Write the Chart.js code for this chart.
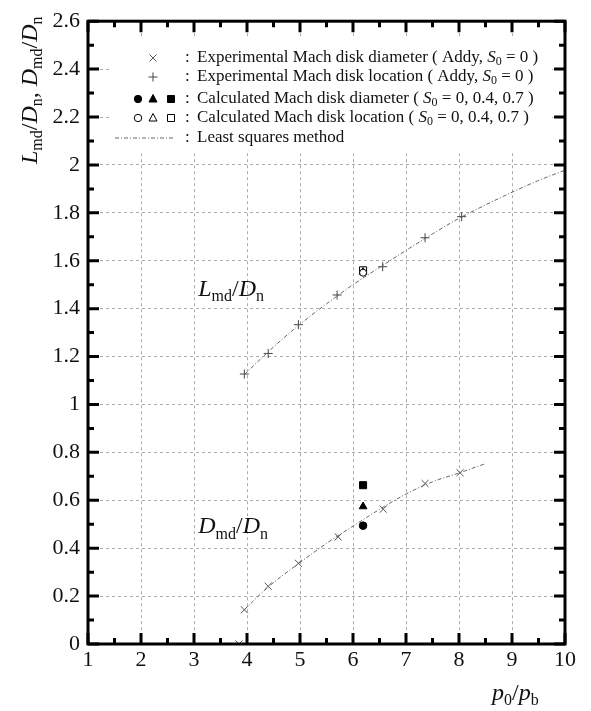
<!DOCTYPE html>
<html>
<head>
<meta charset="utf-8">
<script src="https://cdn.jsdelivr.net/npm/chart.js@4/dist/chart.umd.min.js"></script>
<style>
html,body{margin:0;padding:0;background:#fff;}
#wrap{width:591px;height:711px;position:relative;}
</style>
</head>
<body>
<div id="wrap"><canvas id="c" width="591" height="711"></canvas></div>
<script>
// ---- data ----
const xTickValues = [1, 2, 3, 4, 5, 6, 7, 8, 9, 10];
const yTickLabels = ['0','0.2','0.4','0.6','0.8','1','1.2','1.4','1.6','1.8','2','2.2','2.4','2.6'];

// Experimental Mach disk diameter (Addy, S0 = 0)  -> x markers
const expDiaX = [3.85, 3.95, 4.40, 4.97, 5.72, 6.57, 7.36, 8.02];
const expDiaY = [0.00, 0.143, 0.241, 0.337, 0.447, 0.563, 0.670, 0.715];
// Experimental Mach disk location (Addy, S0 = 0) -> + markers
const expLocX = [3.95, 4.40, 4.97, 5.70, 6.56, 7.36, 8.05];
const expLocY = [1.127, 1.213, 1.333, 1.457, 1.575, 1.696, 1.784];
// Calculated (S0 = 0, 0.4, 0.7)
const calcS0   = ['0', '0.4', '0.7'];
const calcX    = [6.19, 6.19, 6.19];
const calcDiaY = [0.494, 0.574, 0.663];
const calcLocY = [1.550, 1.553, 1.560];
// Least squares fits
const fitLocX = [3.95, 4.5, 5.0, 5.5, 6.0, 6.5, 7.0, 7.5, 8.0, 8.5, 9.0, 9.5, 10.0];
const fitLocY = [1.125, 1.240, 1.335, 1.420, 1.500, 1.572, 1.643, 1.712, 1.777, 1.833, 1.886, 1.935, 1.978];
const fitDiaX = [3.95, 4.4, 5.0, 5.5, 6.0, 6.5, 7.0, 7.5, 8.0, 8.5];
const fitDiaY = [0.143, 0.238, 0.340, 0.420, 0.492, 0.562, 0.626, 0.677, 0.714, 0.753];

const pts = (xs, ys) => xs.map((x, i) => ({x, y: ys[i]}));
const SERIF = '"Liberation Serif", "Times New Roman", serif';

// ---- rich text helper ----
function drawRich(ctx, x, y, segs, base) {
  let cx = x;
  for (const s of segs) {
    let size = base, style = '', dy = 0;
    if (s.k === 'i') style = 'italic ';
    if (s.k === 'sub') { size = Math.round(base * 0.68); dy = base * 0.22; }
    ctx.font = style + size + 'px ' + SERIF;
    ctx.fillText(s.t, cx, y + dy);
    cx += ctx.measureText(s.t).width;
  }
  return cx;
}
function drawMarker(ctx, type, x, y, filled) {
  ctx.save();
  ctx.lineWidth = 1;
  ctx.strokeStyle = '#000';
  ctx.fillStyle = filled ? '#000' : '#fff';
  ctx.beginPath();
  if (type === 'circle') ctx.arc(x, y, 3.7, 0, Math.PI * 2);
  else if (type === 'rect') ctx.rect(x - 3.5, y - 3.5, 7, 7);
  else if (type === 'triangle') { ctx.moveTo(x, y - 4.5); ctx.lineTo(x + 4, y + 3); ctx.lineTo(x - 4, y + 3); ctx.closePath(); }
  if (type === 'cross') { ctx.strokeStyle = '#444'; ctx.moveTo(x - 4.5, y); ctx.lineTo(x + 4.5, y); ctx.moveTo(x, y - 4.5); ctx.lineTo(x, y + 4.5); ctx.stroke(); }
  else if (type === 'crossRot') { ctx.strokeStyle = '#555'; ctx.moveTo(x - 3.5, y - 3.5); ctx.lineTo(x + 3.5, y + 3.5); ctx.moveTo(x + 3.5, y - 3.5); ctx.lineTo(x - 3.5, y + 3.5); ctx.stroke(); }
  else { ctx.fill(); ctx.stroke(); }
  ctx.restore();
}

const decor = {
  id: 'decor',
  beforeDatasetsDraw(chart) {
    const ctx = chart.ctx;
    ctx.save();
    ctx.fillStyle = '#fff';
    ctx.fillRect(110, 38, 442, 112);
    ctx.restore();
  },
  afterDraw(chart) {
    const ctx = chart.ctx, a = chart.chartArea;
    const xs = chart.scales.x, ys = chart.scales.y;
    ctx.save();
    // ticks (inward, all four sides)
    ctx.strokeStyle = '#000';
    ctx.lineWidth = 3;
    ctx.beginPath();
    for (let v = 1; v <= 10.001; v += 0.5) {
      const px = xs.getPixelForValue(v);
      const major = Math.abs(v - Math.round(v)) < 1e-6;
      const L = major ? 11 : 6;
      ctx.moveTo(px, a.bottom); ctx.lineTo(px, a.bottom - L);
      ctx.moveTo(px, a.top); ctx.lineTo(px, a.top + L);
    }
    for (let i = 0; i <= 26; i++) {
      const v = i / 10;
      const py = ys.getPixelForValue(v);
      const L = (i % 2 === 0) ? 11 : 6;
      ctx.moveTo(a.left, py); ctx.lineTo(a.left + L, py);
      ctx.moveTo(a.right, py); ctx.lineTo(a.right - L, py);
    }
    ctx.stroke();
    // frame
    ctx.lineWidth = 3;
    ctx.strokeRect(a.left, a.top, a.right - a.left, a.bottom - a.top);

    // legend
    ctx.fillStyle = '#111';
    ctx.textBaseline = 'middle';
    const rows = [58, 77, 99, 118, 138];
    drawMarker(ctx, 'crossRot', 153, rows[0], false);
    drawMarker(ctx, 'cross', 153, rows[1], false);
    drawMarker(ctx, 'circle', 138, rows[2], true);
    drawMarker(ctx, 'triangle', 153, rows[2], true);
    drawMarker(ctx, 'rect', 171, rows[2], true);
    drawMarker(ctx, 'circle', 138, rows[3], false);
    drawMarker(ctx, 'triangle', 153, rows[3], false);
    drawMarker(ctx, 'rect', 171, rows[3], false);
    ctx.save();
    ctx.strokeStyle = '#666'; ctx.lineWidth = 1; ctx.setLineDash([4, 2, 1, 2]);
    ctx.beginPath(); ctx.moveTo(115, rows[4]); ctx.lineTo(175, rows[4]); ctx.stroke();
    ctx.restore();
    const S0 = [{t:'S', k:'i'}, {t:'0', k:'sub'}];
    const lg = [
      [{t:'Experimental Mach disk diameter ( Addy, '}, ...S0, {t:' = 0 )'}],
      [{t:'Experimental Mach disk location ( Addy, '}, ...S0, {t:' = 0 )'}],
      [{t:'Calculated Mach disk diameter ( '}, ...S0, {t:' = ' + calcS0.join(', ') + ' )'}],
      [{t:'Calculated Mach disk location ( '}, ...S0, {t:' = ' + calcS0.join(', ') + ' )'}],
      [{t:'Least squares method'}]
    ];
    lg.forEach((segs, i) => {
      ctx.font = '17px ' + SERIF;
      ctx.fillText(':', 185, rows[i]);
      drawRich(ctx, 197, rows[i], segs, 17);
    });

    // curve annotations
    ctx.fillStyle = '#111';
    ctx.textBaseline = 'alphabetic';
    const lm = [{t:'L', k:'i'}, {t:'md', k:'sub'}, {t:'/'}, {t:'D', k:'i'}, {t:'n', k:'sub'}];
    const dm = [{t:'D', k:'i'}, {t:'md', k:'sub'}, {t:'/'}, {t:'D', k:'i'}, {t:'n', k:'sub'}];
    drawRich(ctx, xs.getPixelForValue(3.08), ys.getPixelForValue(1.453), lm, 24);
    drawRich(ctx, xs.getPixelForValue(3.08), ys.getPixelForValue(0.462), dm, 24);

    // x title
    const xt = [{t:'p', k:'i'}, {t:'0', k:'sub'}, {t:'/'}, {t:'p', k:'i'}, {t:'b', k:'sub'}];
    drawRich(ctx, 492, 700, xt, 24);

    // y title (rotated)
    ctx.save();
    ctx.translate(37, 164);
    ctx.rotate(-Math.PI / 2);
    drawRich(ctx, 0, 0, [...lm, {t:', '}, ...dm], 24);
    ctx.restore();

    ctx.restore();
  }
};

const lineStyle = {borderColor: '#666', borderWidth: 1, borderDash: [4, 2, 1, 2], pointRadius: 0, showLine: true, fill: false, cubicInterpolationMode: 'monotone'};

new Chart(document.getElementById('c'), {
  type: 'scatter',
  data: {
    datasets: [
      Object.assign({label: 'Least squares (location)', data: pts(fitLocX, fitLocY)}, lineStyle),
      Object.assign({label: 'Least squares (diameter)', data: pts(fitDiaX, fitDiaY)}, lineStyle),
      {label: 'Experimental Mach disk diameter', data: pts(expDiaX, expDiaY), pointStyle: 'crossRot', pointRadius: 5, borderColor: '#555', borderWidth: 1},
      {label: 'Experimental Mach disk location', data: pts(expLocX, expLocY), pointStyle: 'cross', pointRadius: 4.5, borderColor: '#444', borderWidth: 1},
      {label: 'Calc loc S0=0', data: [{x: calcX[0], y: calcLocY[0]}], pointStyle: 'circle', pointRadius: 3.5, borderColor: '#000', backgroundColor: '#fff', borderWidth: 1},
      {label: 'Calc loc S0=0.4', data: [{x: calcX[1], y: calcLocY[1]}], pointStyle: 'triangle', pointRadius: 4.5, borderColor: '#000', backgroundColor: '#fff', borderWidth: 1},
      {label: 'Calc loc S0=0.7', data: [{x: calcX[2], y: calcLocY[2]}], pointStyle: 'rect', pointRadius: 5, borderColor: '#000', backgroundColor: 'rgba(255,255,255,0)', borderWidth: 1},
      {label: 'Calc dia S0=0', data: [{x: calcX[0], y: calcDiaY[0]}], pointStyle: 'circle', pointRadius: 3.8, borderColor: '#000', backgroundColor: '#000', borderWidth: 1},
      {label: 'Calc dia S0=0.4', data: [{x: calcX[1], y: calcDiaY[1]}], pointStyle: 'triangle', pointRadius: 4.5, borderColor: '#000', backgroundColor: '#000', borderWidth: 1},
      {label: 'Calc dia S0=0.7', data: [{x: calcX[2], y: calcDiaY[2]}], pointStyle: 'rect', pointRadius: 5, borderColor: '#000', backgroundColor: '#000', borderWidth: 1}
    ]
  },
  options: {
    responsive: false,
    animation: false,
    layout: {padding: {top: 14, right: 26, left: 0, bottom: 0}},
    plugins: {legend: {display: false}, tooltip: {enabled: false}},
    scales: {
      x: {
        type: 'linear', min: 1, max: 10,
        afterFit: s => { s.height = 67; },
        afterBuildTicks: s => { s.ticks = xTickValues.map(v => ({value: v})); },
        ticks: {color: '#111', font: {family: SERIF, size: 22}, padding: 3, maxRotation: 0, autoSkip: false,
                 callback: (v) => String(v)},
        grid: {color: '#ababab', lineWidth: 1, drawTicks: false},
        border: {display: false, dash: [3, 3]}
      },
      y: {
        type: 'linear', min: 0, max: 2.6,
        afterFit: s => { s.width = 88; },
        afterBuildTicks: s => { s.ticks = yTickLabels.map((t, i) => ({value: i * 0.2})); },
        ticks: {color: '#111', font: {family: SERIF, size: 22}, padding: 8, autoSkip: false,
                 callback: (v, i) => yTickLabels[i]},
        grid: {color: '#ababab', lineWidth: 1, drawTicks: false},
        border: {display: false, dash: [3, 3]}
      }
    }
  },
  plugins: [decor]
});
</script>
</body>
</html>
